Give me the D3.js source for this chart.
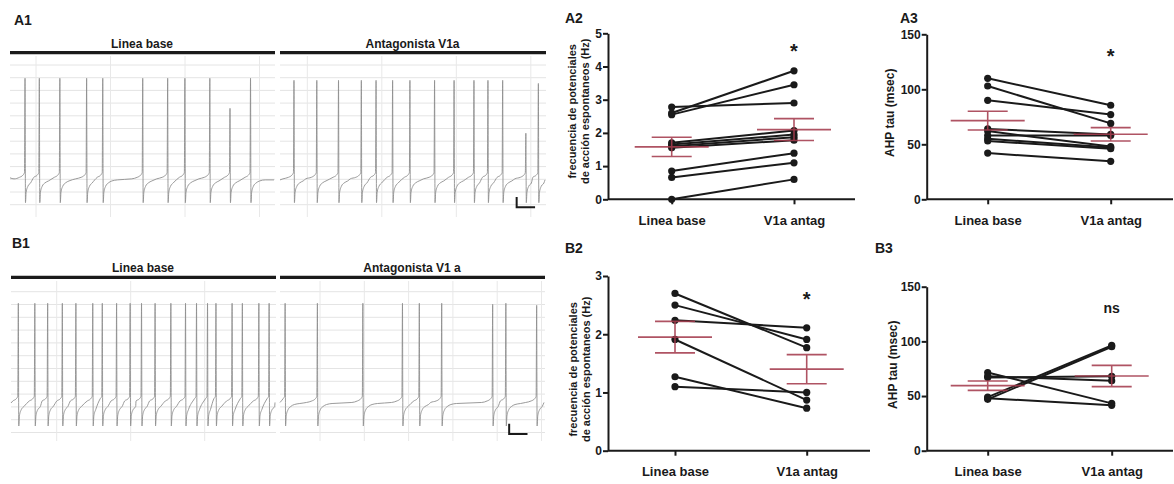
<!DOCTYPE html>
<html>
<head>
<meta charset="utf-8">
<script src="https://cdn.jsdelivr.net/npm/d3@7"></script>
<style>
  body { margin: 0; background: #fff; }
  svg { display: block; font-family: Arial, "Liberation Sans", sans-serif; }
</style>
</head>
<body>
<svg id="fig" width="1174" height="484"></svg>
<script>
// ---------------- data ----------------
var conditions = ["Linea base", "V1a antag"];

// A2: spontaneous AP frequency (Hz), paired
var a2Base  = [0, 0.66, 0.85, 1.55, 1.60, 1.65, 1.70, 2.55, 2.60, 2.78];
var a2Antag = [0.60, 1.10, 1.39, 1.78, 1.87, 1.95, 2.07, 3.45, 3.87, 2.90];
var a2Mean = [1.58, 2.10];
var a2Sem  = [0.29, 0.33];

// A3: AHP tau (msec), paired
var a3Base  = [110, 103, 90, 64, 62, 58, 55, 53, 42];
var a3Antag = [85.5, 69, 77, 59, 48, 58, 47, 46, 34.5];
var a3Mean = [71.5, 59.1];
var a3Sem  = [8.5, 6.1];

// B2: spontaneous AP frequency (Hz), paired
var b2Base  = [2.70, 2.50, 2.24, 1.91, 1.27, 1.10];
var b2Antag = [1.77, 1.91, 2.11, 0.87, 0.73, 1.00];
var b2Mean = [1.95, 1.40];
var b2Sem  = [0.27, 0.25];

// B3: AHP tau (msec), paired
var b3Base  = [71.5, 68, 67, 49, 47, 48];
var b3Antag = [43.3, 64, 68, 96.3, 95.1, 41.5];
var b3Mean = [59.5, 68.3];
var b3Sem  = [4.3, 9.7];

var freqTicksA = [0, 1, 2, 3, 4, 5];
var freqTicksB = [0, 1, 2, 3];
var tauTicks = [0, 50, 100, 150];

// traces: spike times (s) and spike peaks (mV) for each 7.2 s segment
var a1BaseSpikes  = [0.41, 0.80, 1.36, 2.09, 2.53, 3.62, 4.30, 4.77, 5.45, 6.00, 6.56];
var a1BasePeaks   = [40, 40, 40, 40, 40, 40, 40, 40, 40, 11, 40];
var a1AntagSpikes = [0.38, 1.00, 1.59, 2.21, 2.61, 3.06, 3.53, 4.20, 4.73, 5.27, 5.65, 6.05, 6.68, 7.02];
var a1AntagPeaks  = [38, 38, 38, 38, 38, 38, 38, 38, 38, 38, 38, 38, -13, 35];
var b1BaseSpikes  = [0.20, 0.65, 1.00, 1.40, 1.77, 2.23, 2.49, 2.88, 3.25, 3.56, 3.93, 4.36, 4.76, 5.06, 5.36, 5.59, 6.03, 6.31, 6.76, 7.04];
var b1BasePeaks   = [40, 40, 40, 40, 40, 40, 40, 40, 40, 40, 40, 40, 40, 40, 40, 40, 40, 40, 40, 40];
var b1AntagSpikes = [0.14, 1.02, 2.26, 3.34, 3.80, 4.41, 5.80, 6.16, 7.00];
var b1AntagPeaks  = [40, 40, 40, 40, 40, 40, 39, 40, 38];

// spike waveform: trough, after-hyperpolarisation, pre-spike ramp
var troughDt = 0.012, troughV = -80;
var ahpDt = [0.03, 0.08, 0.15, 0.25, 0.4];
var ahpV  = [-70, -64, -61, -59, -58];
var preDt = [-0.3, -0.15, -0.06, -0.015];
var preV  = [-57, -55.5, -53.5, -51];
var segDur = 7.2;

// ---------------- drawing ----------------
var svg = d3.select("#fig");
var ink = "#1a1a1a";

function buildTrace(spikes, peaks, startV, endV) {
  var pts = [[0, startV]];
  spikes.forEach(function(t, i) {
    var prev = i === 0 ? 0 : (spikes[i - 1] + t) / 2;
    preDt.forEach(function(dt, k) {
      if (t + dt > prev) pts.push([t + dt, preV[k]]);
    });
    pts.push([t, peaks[i]]);
    pts.push([t + troughDt, troughV]);
    var next = i === spikes.length - 1 ? segDur : (t + spikes[i + 1]) / 2;
    ahpDt.forEach(function(dt, k) {
      if (t + dt < next) pts.push([t + dt, ahpV[k]]);
    });
  });
  pts.push([segDur, endV]);
  return pts;
}

function drawTraceRow(r) {
  var g = svg.append("g");
  var y = d3.scaleLinear().domain([-80, 40]).range([r.troughY, r.peakY]);

  g.append("text").attr("x", r.labelX).attr("y", r.labelY)
    .attr("font-size", 14).attr("font-weight", "bold").attr("fill", ink).text(r.label);

  r.segments.forEach(function(s) {
    var x = d3.scaleLinear().domain([0, segDur]).range([s.x0, s.x1]);

    // grid
    var hs = d3.range(r.gridCount).map(function(i) { return r.gridTop + i * r.gridStep; });
    g.selectAll(null).data(hs).join("line")
      .attr("x1", s.x0).attr("x2", s.x1 + 1).attr("y1", function(d) { return d; }).attr("y2", function(d) { return d; })
      .attr("stroke", "#e4e4e4").attr("stroke-width", 1);
    var vs = d3.range(s.vCount).map(function(i) { return s.vStart + i * s.vStep; });
    g.selectAll(null).data(vs).join("line")
      .attr("x1", function(d) { return d; }).attr("x2", function(d) { return d; })
      .attr("y1", r.vTop).attr("y2", r.vBottom)
      .attr("stroke", "#e8e8e8").attr("stroke-width", 1);

    // condition bar
    g.append("line").attr("x1", s.x0).attr("x2", s.x1 + 1).attr("y1", r.barY).attr("y2", r.barY)
      .attr("stroke", ink).attr("stroke-width", 3.2);
    g.append("text").attr("x", (s.x0 + s.x1) / 2).attr("y", r.barY - 5)
      .attr("text-anchor", "middle").attr("font-size", 12).attr("font-weight", "bold")
      .attr("fill", ink).text(s.title);

    // recording
    var line = d3.line().curve(d3.curveMonotoneX)
      .x(function(d) { return x(d[0]); }).y(function(d) { return y(d[1]); });
    g.append("path").datum(buildTrace(s.spikes, s.peaks, s.startV, s.endV))
      .attr("d", line).attr("fill", "none").attr("stroke", "#8e8e8e").attr("stroke-width", 0.9);

    // scale bar: 0.5 s, 10 mV
    if (s.bar) {
      var bx = x(s.bar[0]), by = y(s.bar[1]);
      g.append("path")
        .attr("d", "M" + bx + "," + y(s.bar[1] + 10) + "V" + by + "H" + x(s.bar[0] + 0.5))
        .attr("fill", "none").attr("stroke", ink).attr("stroke-width", 2);
    }
  });
}

drawTraceRow({
  label: "A1", labelX: 14, labelY: 25,
  troughY: 202.7, peakY: 78.3, barY: 52.7,
  gridTop: 65, gridStep: 12.7, gridCount: 12, vTop: 56, vBottom: 217,
  segments: [
    { x0: 10, x1: 274, title: "Linea base", spikes: a1BaseSpikes, peaks: a1BasePeaks,
      startV: -56, endV: -58, vStart: 36, vStep: 74.5, vCount: 4 },
    { x0: 280, x1: 545, title: "Antagonista V1a", spikes: a1AntagSpikes, peaks: a1AntagPeaks,
      startV: -58, endV: -58, vStart: 307.3, vStep: 74.5, vCount: 4, bar: [6.43, -84.5] }
  ]
});

drawTraceRow({
  label: "B1", labelX: 12, labelY: 248,
  troughY: 426, peakY: 303.3, barY: 277.3,
  gridTop: 291.7, gridStep: 12.8, gridCount: 12, vTop: 281, vBottom: 441,
  segments: [
    { x0: 11, x1: 275, title: "Linea base", spikes: b1BaseSpikes, peaks: b1BasePeaks,
      startV: -57.5, endV: -57, vStart: 56.7, vStep: 74, vCount: 3 },
    { x0: 280, x1: 544, title: "Antagonista V1 a", spikes: b1AntagSpikes, peaks: b1AntagPeaks,
      startV: -57, endV: -57, vStart: 320, vStep: 44.3, vCount: 6, bar: [6.25, -87.8] }
  ]
});

function drawPaired(p) {
  var g = svg.append("g");
  var x = d3.scalePoint().domain(conditions).range(p.cols);
  var y = d3.scaleLinear().domain(p.domain).range([p.yBottom, p.yTop]);

  g.append("text").attr("x", p.labelX).attr("y", p.labelY)
    .attr("font-size", 14).attr("font-weight", "bold").attr("fill", ink).text(p.label);

  // paired lines and points
  var pairs = d3.zip(p.base, p.antag);
  g.selectAll("line.pair").data(pairs).join("line").attr("class", "pair")
    .attr("x1", x(conditions[0])).attr("x2", x(conditions[1]))
    .attr("y1", function(d) { return y(d[0]); }).attr("y2", function(d) { return y(d[1]); })
    .attr("stroke", ink).attr("stroke-width", 2);
  var pts = p.base.map(function(v) { return [conditions[0], v]; })
    .concat(p.antag.map(function(v) { return [conditions[1], v]; }));
  g.selectAll("circle").data(pts).join("circle")
    .attr("cx", function(d) { return x(d[0]); }).attr("cy", function(d) { return y(d[1]); })
    .attr("r", 3.6).attr("fill", ink);

  // mean +/- SEM
  conditions.forEach(function(c, i) {
    var cx = x(c), m = p.mean[i], s = p.sem[i];
    var eg = g.append("g").attr("stroke", "#a53c4e").attr("stroke-width", 1.6).attr("opacity", 0.88);
    eg.append("line").attr("x1", cx - 37).attr("x2", cx + 37).attr("y1", y(m)).attr("y2", y(m));
    eg.append("line").attr("x1", cx).attr("x2", cx).attr("y1", y(m + s)).attr("y2", y(m - s));
    [m + s, m - s].forEach(function(v) {
      eg.append("line").attr("x1", cx - 20).attr("x2", cx + 20).attr("y1", y(v)).attr("y2", y(v));
    });
  });

  // axes
  var yAxis = d3.axisLeft(y).tickValues(p.ticks).tickFormat(d3.format("d"))
    .tickSize(5).tickSizeOuter(0).tickPadding(1);
  var ya = g.append("g").attr("transform", "translate(" + p.x0 + ",0)").call(yAxis);
  var xa = g.append("g").attr("transform", "translate(0," + p.yBottom + ")")
    .call(d3.axisBottom(x).tickSize(5).tickSizeOuter(0).tickPadding(11));
  xa.select(".domain").remove();
  xa.append("line").attr("x1", p.x0).attr("x2", p.x1).attr("stroke", ink).attr("stroke-width", 2);
  [ya, xa].forEach(function(a) {
    a.selectAll("path, line").attr("stroke", ink).attr("stroke-width", 2);
    a.selectAll("text").attr("fill", ink).attr("font-size", 12).attr("font-weight", "bold")
      .attr("font-family", "Arial, 'Liberation Sans', sans-serif");
  });
  xa.selectAll(".tick text").attr("font-size", 13);

  // y title
  var cy = (p.yBottom + p.yTop) / 2 + p.titleDy;
  p.title.forEach(function(t, i) {
    g.append("text").attr("transform", "translate(" + p.titleX[i] + "," + cy + ") rotate(-90)")
      .attr("text-anchor", "middle").attr("font-size", p.titleSize).attr("font-weight", "bold")
      .attr("fill", ink).text(t);
  });

  // significance
  g.append("text").attr("x", x(conditions[1])).attr("y", p.sigY)
    .attr("text-anchor", "middle").attr("font-size", p.sig === "*" ? 20 : 14)
    .attr("font-weight", "bold").attr("fill", ink).text(p.sig);
}

var freqTitle = ["frecuencia de potenciales", "de acción espontaneos (Hz)"];

drawPaired({ label: "A2", labelX: 565, labelY: 23,
  base: a2Base, antag: a2Antag, mean: a2Mean, sem: a2Sem,
  domain: [0, 5], ticks: freqTicksA, cols: [671.7, 794],
  x0: 608, x1: 855, yBottom: 199.3, yTop: 33.3,
  title: freqTitle, titleX: [576, 589], titleSize: 11, titleDy: -5,
  sig: "*", sigY: 58 });

drawPaired({ label: "A3", labelX: 900, labelY: 23,
  base: a3Base, antag: a3Antag, mean: a3Mean, sem: a3Sem,
  domain: [0, 150], ticks: tauTicks, cols: [987.7, 1110.7],
  x0: 926.7, x1: 1173, yBottom: 199.3, yTop: 34.3,
  title: ["AHP tau (msec)"], titleX: [894], titleSize: 12, titleDy: -4,
  sig: "*", sigY: 63 });

drawPaired({ label: "B2", labelX: 565, labelY: 253,
  base: b2Base, antag: b2Antag, mean: b2Mean, sem: b2Sem,
  domain: [0, 3], ticks: freqTicksB, cols: [675, 806.7],
  x0: 608, x1: 870, yBottom: 450.7, yTop: 276,
  title: freqTitle, titleX: [577, 590], titleSize: 11, titleDy: 6,
  sig: "*", sigY: 306 });

drawPaired({ label: "B3", labelX: 875, labelY: 253,
  base: b3Base, antag: b3Antag, mean: b3Mean, sem: b3Sem,
  domain: [0, 150], ticks: tauTicks, cols: [987.7, 1111.7],
  x0: 926.7, x1: 1173, yBottom: 450.7, yTop: 286.7,
  title: ["AHP tau (msec)"], titleX: [897], titleSize: 12, titleDy: -4,
  sig: "ns", sigY: 313 });
</script>
</body>
</html>
